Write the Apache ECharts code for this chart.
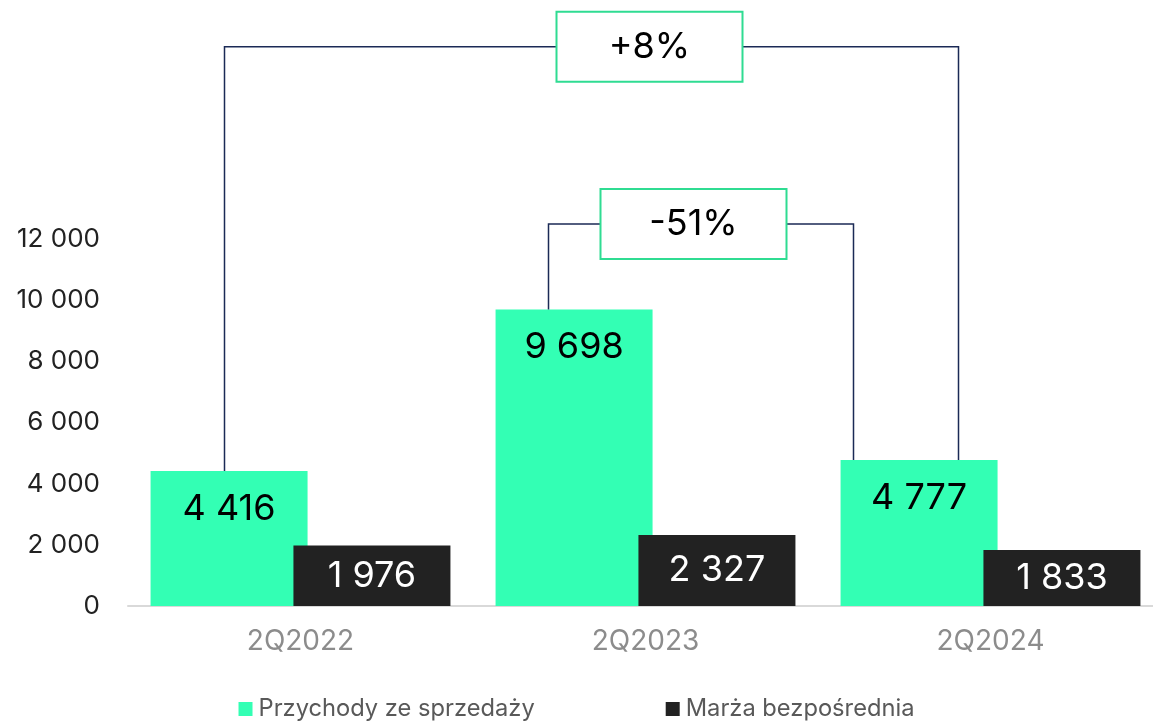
<!DOCTYPE html>
<html>
<head>
<meta charset="utf-8">
<script src="https://cdn.jsdelivr.net/npm/echarts@6/dist/echarts.min.js"></script>
<style>
html,body{margin:0;padding:0;background:#fff;}
#chart{width:1153px;height:728px;}
</style>
</head>
<body>
<div id="chart"></div>
<script>
const categories = ['2Q2022', '2Q2023', '2Q2024'];
const revenue = [4416, 9698, 4777];
const directMargin = [1976, 2327, 1833];
const seriesNames = ['Przychody ze sprzedaży', 'Marża bezpośrednia'];
const yTicks = [0, 2000, 4000, 6000, 8000, 10000, 12000];
const changeLabels = ['+8%', '-51%'];
const changeFrom = [0, 1];
const changeTo = [2, 2];
const changeLevel = [18300, 12500];

// pixel styling for brackets (not data)
const bracketStyle = [
  { left: -76, right: -32, box: 425 },
  { left: -97, right: -137, box: 145 }
];

const FONT = 'Inter, "Noto Sans", sans-serif';
const fmt = v => String(v).replace(/\B(?=(\d{3})+(?!\d))/g, ' ');

const chart = echarts.init(document.getElementById('chart'));
const bracketData = changeFrom.map((f, i) => [f, changeTo[i], revenue[f], revenue[changeTo[i]], changeLevel[i], i]);

chart.setOption({
  animation: false,
  backgroundColor: '#fff',
  grid: { left: 128, width: 1035, top: 10, bottom: 122, containLabel: false, outerBoundsMode: 'none' },
  legend: {
    bottom: 2,
    left: 'center',
    data: seriesNames,
    icon: 'rect',
    itemWidth: 14,
    itemHeight: 14,
    itemGap: 131,
    textStyle: { fontFamily: FONT, fontSize: 23.7, color: '#595959', padding: [0, 0, 0, 1] }
  },
  xAxis: {
    type: 'category',
    data: categories,
    axisLine: { lineStyle: { color: '#d9d9d9', width: 2 } },
    axisTick: { show: false },
    axisLabel: { fontFamily: FONT, fontSize: 28, color: '#8c8c8c', margin: 22 }
  },
  yAxis: {
    type: 'value',
    min: 0,
    max: 19500,
    interval: 2000,
    splitLine: { show: false },
    axisLine: { show: false },
    axisTick: { show: false },
    axisLabel: {
      fontFamily: FONT, fontSize: 26, color: '#222', margin: 28,
      formatter: v => yTicks.indexOf(v) >= 0 ? fmt(v) : ''
    }
  },
  series: [
    {
      name: seriesNames[0],
      type: 'bar',
      data: revenue,
      barWidth: 157,
      barGap: '-9%',
      itemStyle: { color: '#33ffb4' },
      label: {
        show: true, position: 'insideTop', distance: 20,
        fontFamily: FONT, fontSize: 36, color: '#000',
        formatter: p => fmt(p.value)
      }
    },
    {
      name: seriesNames[1],
      type: 'bar',
      data: directMargin,
      barWidth: 157,
      barGap: '-9%',
      itemStyle: { color: '#222222' },
      label: {
        show: true, position: 'inside',
        fontFamily: FONT, fontSize: 36, color: '#fff',
        formatter: p => fmt(p.value)
      }
    },
    {
      type: 'custom',
      coordinateSystem: 'cartesian2d',
      data: bracketData,
      encode: { x: 0, y: 4 },
      z: 5,
      silent: true,
      renderItem: function (params, api) {
        const i = api.value(5);
        const st = bracketStyle[i];
        const p1 = api.coord([api.value(0), api.value(2)]);
        const p2 = api.coord([api.value(1), api.value(3)]);
        const lv = api.coord([api.value(0), api.value(4)])[1];
        const x1 = p1[0] + st.left;
        const x2 = p2[0] + st.right;
        const bx = x1 + st.box;
        const bw = 186, bh = 70;
        return {
          type: 'group',
          children: [
            {
              type: 'polyline',
              shape: { points: [[x1, p1[1]], [x1, lv], [x2, lv], [x2, p2[1]]] },
              style: { stroke: '#1b2a56', lineWidth: 1.5, fill: null }
            },
            {
              type: 'rect',
              shape: { x: bx - bw / 2, y: lv - bh / 2, width: bw, height: bh },
              style: { fill: '#fff', stroke: '#2fdc92', lineWidth: 2 }
            },
            {
              type: 'text',
              style: {
                x: bx, y: lv, text: changeLabels[i],
                align: 'center', verticalAlign: 'middle',
                fontFamily: FONT, fontSize: 36, fill: '#000'
              }
            }
          ]
        };
      }
    }
  ]
});
</script>
</body>
</html>
